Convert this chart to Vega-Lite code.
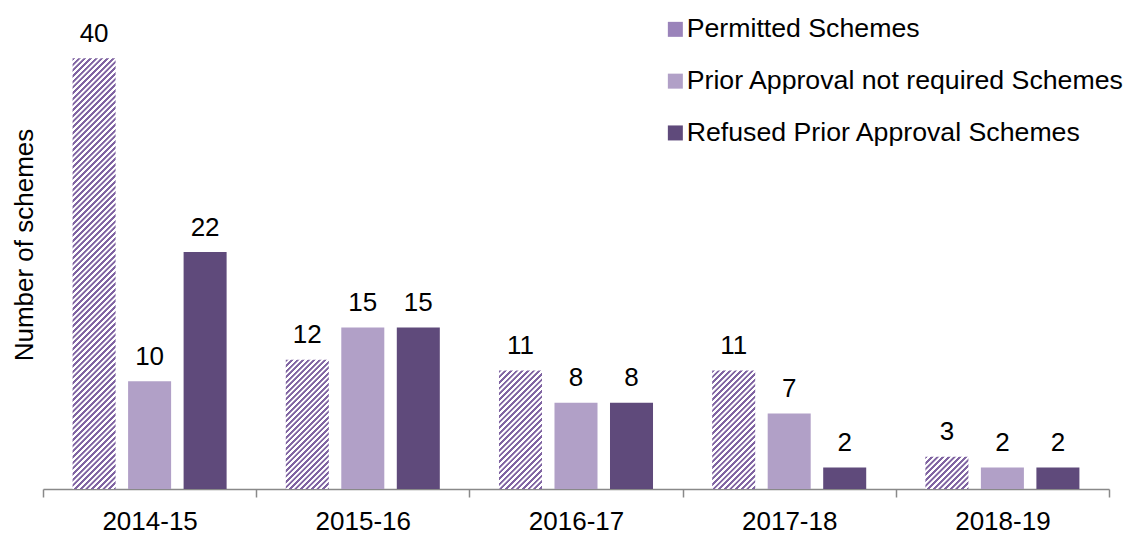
{
"$schema": "https://vega.github.io/schema/vega-lite/v6.json",
"width": 1066,
"height": 489,
"autosize": {"type": "none"},
"padding": {"left": 43, "top": 0, "right": 17, "bottom": 44},
"background": "#ffffff",
"config": {"view": {"stroke": null}, "font": "Liberation Sans"},
"data": {"values": [
{"year": "2014-15", "series": "Permitted Schemes", "value": 40},
{"year": "2014-15", "series": "Prior Approval not required Schemes", "value": 10},
{"year": "2014-15", "series": "Refused Prior Approval Schemes", "value": 22},
{"year": "2015-16", "series": "Permitted Schemes", "value": 12},
{"year": "2015-16", "series": "Prior Approval not required Schemes", "value": 15},
{"year": "2015-16", "series": "Refused Prior Approval Schemes", "value": 15},
{"year": "2016-17", "series": "Permitted Schemes", "value": 11},
{"year": "2016-17", "series": "Prior Approval not required Schemes", "value": 8},
{"year": "2016-17", "series": "Refused Prior Approval Schemes", "value": 8},
{"year": "2017-18", "series": "Permitted Schemes", "value": 11},
{"year": "2017-18", "series": "Prior Approval not required Schemes", "value": 7},
{"year": "2017-18", "series": "Refused Prior Approval Schemes", "value": 2},
{"year": "2018-19", "series": "Permitted Schemes", "value": 3},
{"year": "2018-19", "series": "Prior Approval not required Schemes", "value": 2},
{"year": "2018-19", "series": "Refused Prior Approval Schemes", "value": 2}
]},
"encoding": {
"x": {"field": "year", "type": "nominal", "sort": null,
 "scale": {"paddingInner": 0, "paddingOuter": 0},
 "axis": {"title": null, "labelAngle": 0, "labelFontSize": 26, "labelColor": "#000000", "labelPadding": 32, "labelBaseline": "alphabetic", "domainColor": "#898989", "domainWidth": 1.5, "tickColor": "#898989", "tickWidth": 1.5, "tickSize": 8, "tickBand": "extent", "grid": false}},
"xOffset": {"field": "series", "type": "nominal",
 "scale": {"domain": ["Permitted Schemes", "Prior Approval not required Schemes", "Refused Prior Approval Schemes"], "paddingInner": 0.225, "paddingOuter": 0.533}},
"y": {"field": "value", "type": "quantitative",
 "scale": {"domain": [0, 45.4], "nice": false, "zero": true},
 "axis": {"title": "Number of schemes", "labels": false, "ticks": false, "domain": false, "grid": false, "titleFontSize": 26, "titleColor": "#000000", "titleFontWeight": "normal", "titleX": -11, "titleY": 244.5, "titleAngle": -90, "titleAlign": "center", "titleBaseline": "alphabetic"}}
},
"layer": [
{"transform": [{"filter": "datum.series !== 'Permitted Schemes'"}],
 "mark": {"type": "bar"},
 "encoding": {"color": {"field": "series", "type": "nominal",
  "scale": {"domain": ["Permitted Schemes", "Prior Approval not required Schemes", "Refused Prior Approval Schemes"],
   "range": ["#9a83ba", "#b1a0c7", "#5f4a7b"]},
  "legend": {"orient": "none", "legendX": 619, "legendY": 16, "title": null, "symbolType": "square", "symbolSize": 225, "symbolStrokeWidth": 0, "labelFontSize": 26.7, "labelColor": "#000000", "labelLimit": 800, "rowPadding": 23.8, "labelOffset": -2, "padding": 0}}}},
{"transform": [{"filter": "datum.series === 'Permitted Schemes' && datum.year === '2014-15'"}],
 "mark": {"type": "bar", "fill": {"gradient": "linear", "x1": 0, "y1": 0, "x2": 0.10868, "y2": 1.08896, "stops": [
{"offset":0,"color":"#8064a2"},{"offset":0.005,"color":"#8064a2"},{"offset":0.006,"color":"#ffffff"},{"offset":0.011,"color":"#ffffff"},
{"offset":0.012,"color":"#8064a2"},{"offset":0.017,"color":"#8064a2"},{"offset":0.018,"color":"#ffffff"},{"offset":0.023,"color":"#ffffff"},
{"offset":0.024,"color":"#8064a2"},{"offset":0.029,"color":"#8064a2"},{"offset":0.030,"color":"#ffffff"},{"offset":0.035,"color":"#ffffff"},
{"offset":0.036,"color":"#8064a2"},{"offset":0.041,"color":"#8064a2"},{"offset":0.042,"color":"#ffffff"},{"offset":0.047,"color":"#ffffff"},
{"offset":0.048,"color":"#8064a2"},{"offset":0.053,"color":"#8064a2"},{"offset":0.054,"color":"#ffffff"},{"offset":0.059,"color":"#ffffff"},
{"offset":0.060,"color":"#8064a2"},{"offset":0.065,"color":"#8064a2"},{"offset":0.066,"color":"#ffffff"},{"offset":0.071,"color":"#ffffff"},
{"offset":0.072,"color":"#8064a2"},{"offset":0.077,"color":"#8064a2"},{"offset":0.078,"color":"#ffffff"},{"offset":0.083,"color":"#ffffff"},
{"offset":0.084,"color":"#8064a2"},{"offset":0.089,"color":"#8064a2"},{"offset":0.090,"color":"#ffffff"},{"offset":0.095,"color":"#ffffff"},
{"offset":0.096,"color":"#8064a2"},{"offset":0.101,"color":"#8064a2"},{"offset":0.102,"color":"#ffffff"},{"offset":0.107,"color":"#ffffff"},
{"offset":0.108,"color":"#8064a2"},{"offset":0.113,"color":"#8064a2"},{"offset":0.114,"color":"#ffffff"},{"offset":0.119,"color":"#ffffff"},
{"offset":0.120,"color":"#8064a2"},{"offset":0.125,"color":"#8064a2"},{"offset":0.126,"color":"#ffffff"},{"offset":0.131,"color":"#ffffff"},
{"offset":0.132,"color":"#8064a2"},{"offset":0.137,"color":"#8064a2"},{"offset":0.138,"color":"#ffffff"},{"offset":0.143,"color":"#ffffff"},
{"offset":0.144,"color":"#8064a2"},{"offset":0.149,"color":"#8064a2"},{"offset":0.150,"color":"#ffffff"},{"offset":0.155,"color":"#ffffff"},
{"offset":0.156,"color":"#8064a2"},{"offset":0.161,"color":"#8064a2"},{"offset":0.162,"color":"#ffffff"},{"offset":0.167,"color":"#ffffff"},
{"offset":0.168,"color":"#8064a2"},{"offset":0.173,"color":"#8064a2"},{"offset":0.174,"color":"#ffffff"},{"offset":0.179,"color":"#ffffff"},
{"offset":0.180,"color":"#8064a2"},{"offset":0.185,"color":"#8064a2"},{"offset":0.186,"color":"#ffffff"},{"offset":0.191,"color":"#ffffff"},
{"offset":0.192,"color":"#8064a2"},{"offset":0.197,"color":"#8064a2"},{"offset":0.198,"color":"#ffffff"},{"offset":0.203,"color":"#ffffff"},
{"offset":0.204,"color":"#8064a2"},{"offset":0.209,"color":"#8064a2"},{"offset":0.210,"color":"#ffffff"},{"offset":0.215,"color":"#ffffff"},
{"offset":0.216,"color":"#8064a2"},{"offset":0.221,"color":"#8064a2"},{"offset":0.222,"color":"#ffffff"},{"offset":0.227,"color":"#ffffff"},
{"offset":0.228,"color":"#8064a2"},{"offset":0.233,"color":"#8064a2"},{"offset":0.234,"color":"#ffffff"},{"offset":0.239,"color":"#ffffff"},
{"offset":0.240,"color":"#8064a2"},{"offset":0.245,"color":"#8064a2"},{"offset":0.246,"color":"#ffffff"},{"offset":0.251,"color":"#ffffff"},
{"offset":0.252,"color":"#8064a2"},{"offset":0.257,"color":"#8064a2"},{"offset":0.258,"color":"#ffffff"},{"offset":0.263,"color":"#ffffff"},
{"offset":0.264,"color":"#8064a2"},{"offset":0.269,"color":"#8064a2"},{"offset":0.270,"color":"#ffffff"},{"offset":0.275,"color":"#ffffff"},
{"offset":0.276,"color":"#8064a2"},{"offset":0.281,"color":"#8064a2"},{"offset":0.282,"color":"#ffffff"},{"offset":0.287,"color":"#ffffff"},
{"offset":0.288,"color":"#8064a2"},{"offset":0.293,"color":"#8064a2"},{"offset":0.294,"color":"#ffffff"},{"offset":0.299,"color":"#ffffff"},
{"offset":0.300,"color":"#8064a2"},{"offset":0.305,"color":"#8064a2"},{"offset":0.306,"color":"#ffffff"},{"offset":0.311,"color":"#ffffff"},
{"offset":0.312,"color":"#8064a2"},{"offset":0.317,"color":"#8064a2"},{"offset":0.318,"color":"#ffffff"},{"offset":0.323,"color":"#ffffff"},
{"offset":0.324,"color":"#8064a2"},{"offset":0.329,"color":"#8064a2"},{"offset":0.330,"color":"#ffffff"},{"offset":0.335,"color":"#ffffff"},
{"offset":0.336,"color":"#8064a2"},{"offset":0.341,"color":"#8064a2"},{"offset":0.342,"color":"#ffffff"},{"offset":0.347,"color":"#ffffff"},
{"offset":0.348,"color":"#8064a2"},{"offset":0.353,"color":"#8064a2"},{"offset":0.354,"color":"#ffffff"},{"offset":0.359,"color":"#ffffff"},
{"offset":0.360,"color":"#8064a2"},{"offset":0.365,"color":"#8064a2"},{"offset":0.366,"color":"#ffffff"},{"offset":0.371,"color":"#ffffff"},
{"offset":0.372,"color":"#8064a2"},{"offset":0.377,"color":"#8064a2"},{"offset":0.378,"color":"#ffffff"},{"offset":0.383,"color":"#ffffff"},
{"offset":0.384,"color":"#8064a2"},{"offset":0.389,"color":"#8064a2"},{"offset":0.390,"color":"#ffffff"},{"offset":0.395,"color":"#ffffff"},
{"offset":0.396,"color":"#8064a2"},{"offset":0.401,"color":"#8064a2"},{"offset":0.402,"color":"#ffffff"},{"offset":0.407,"color":"#ffffff"},
{"offset":0.408,"color":"#8064a2"},{"offset":0.413,"color":"#8064a2"},{"offset":0.414,"color":"#ffffff"},{"offset":0.419,"color":"#ffffff"},
{"offset":0.420,"color":"#8064a2"},{"offset":0.425,"color":"#8064a2"},{"offset":0.426,"color":"#ffffff"},{"offset":0.431,"color":"#ffffff"},
{"offset":0.432,"color":"#8064a2"},{"offset":0.437,"color":"#8064a2"},{"offset":0.438,"color":"#ffffff"},{"offset":0.443,"color":"#ffffff"},
{"offset":0.444,"color":"#8064a2"},{"offset":0.449,"color":"#8064a2"},{"offset":0.450,"color":"#ffffff"},{"offset":0.455,"color":"#ffffff"},
{"offset":0.456,"color":"#8064a2"},{"offset":0.461,"color":"#8064a2"},{"offset":0.462,"color":"#ffffff"},{"offset":0.467,"color":"#ffffff"},
{"offset":0.468,"color":"#8064a2"},{"offset":0.473,"color":"#8064a2"},{"offset":0.474,"color":"#ffffff"},{"offset":0.479,"color":"#ffffff"},
{"offset":0.480,"color":"#8064a2"},{"offset":0.485,"color":"#8064a2"},{"offset":0.486,"color":"#ffffff"},{"offset":0.491,"color":"#ffffff"},
{"offset":0.492,"color":"#8064a2"},{"offset":0.497,"color":"#8064a2"},{"offset":0.498,"color":"#ffffff"},{"offset":0.503,"color":"#ffffff"},
{"offset":0.504,"color":"#8064a2"},{"offset":0.509,"color":"#8064a2"},{"offset":0.510,"color":"#ffffff"},{"offset":0.515,"color":"#ffffff"},
{"offset":0.516,"color":"#8064a2"},{"offset":0.521,"color":"#8064a2"},{"offset":0.522,"color":"#ffffff"},{"offset":0.527,"color":"#ffffff"},
{"offset":0.528,"color":"#8064a2"},{"offset":0.533,"color":"#8064a2"},{"offset":0.534,"color":"#ffffff"},{"offset":0.539,"color":"#ffffff"},
{"offset":0.540,"color":"#8064a2"},{"offset":0.545,"color":"#8064a2"},{"offset":0.546,"color":"#ffffff"},{"offset":0.551,"color":"#ffffff"},
{"offset":0.552,"color":"#8064a2"},{"offset":0.557,"color":"#8064a2"},{"offset":0.558,"color":"#ffffff"},{"offset":0.563,"color":"#ffffff"},
{"offset":0.564,"color":"#8064a2"},{"offset":0.569,"color":"#8064a2"},{"offset":0.570,"color":"#ffffff"},{"offset":0.575,"color":"#ffffff"},
{"offset":0.576,"color":"#8064a2"},{"offset":0.581,"color":"#8064a2"},{"offset":0.582,"color":"#ffffff"},{"offset":0.587,"color":"#ffffff"},
{"offset":0.588,"color":"#8064a2"},{"offset":0.593,"color":"#8064a2"},{"offset":0.594,"color":"#ffffff"},{"offset":0.599,"color":"#ffffff"},
{"offset":0.600,"color":"#8064a2"},{"offset":0.605,"color":"#8064a2"},{"offset":0.606,"color":"#ffffff"},{"offset":0.611,"color":"#ffffff"},
{"offset":0.612,"color":"#8064a2"},{"offset":0.617,"color":"#8064a2"},{"offset":0.618,"color":"#ffffff"},{"offset":0.623,"color":"#ffffff"},
{"offset":0.624,"color":"#8064a2"},{"offset":0.629,"color":"#8064a2"},{"offset":0.630,"color":"#ffffff"},{"offset":0.635,"color":"#ffffff"},
{"offset":0.636,"color":"#8064a2"},{"offset":0.641,"color":"#8064a2"},{"offset":0.642,"color":"#ffffff"},{"offset":0.647,"color":"#ffffff"},
{"offset":0.648,"color":"#8064a2"},{"offset":0.653,"color":"#8064a2"},{"offset":0.654,"color":"#ffffff"},{"offset":0.659,"color":"#ffffff"},
{"offset":0.660,"color":"#8064a2"},{"offset":0.665,"color":"#8064a2"},{"offset":0.666,"color":"#ffffff"},{"offset":0.671,"color":"#ffffff"},
{"offset":0.672,"color":"#8064a2"},{"offset":0.677,"color":"#8064a2"},{"offset":0.678,"color":"#ffffff"},{"offset":0.683,"color":"#ffffff"},
{"offset":0.684,"color":"#8064a2"},{"offset":0.689,"color":"#8064a2"},{"offset":0.690,"color":"#ffffff"},{"offset":0.695,"color":"#ffffff"},
{"offset":0.696,"color":"#8064a2"},{"offset":0.701,"color":"#8064a2"},{"offset":0.702,"color":"#ffffff"},{"offset":0.707,"color":"#ffffff"},
{"offset":0.708,"color":"#8064a2"},{"offset":0.713,"color":"#8064a2"},{"offset":0.714,"color":"#ffffff"},{"offset":0.719,"color":"#ffffff"},
{"offset":0.720,"color":"#8064a2"},{"offset":0.725,"color":"#8064a2"},{"offset":0.726,"color":"#ffffff"},{"offset":0.731,"color":"#ffffff"},
{"offset":0.732,"color":"#8064a2"},{"offset":0.737,"color":"#8064a2"},{"offset":0.738,"color":"#ffffff"},{"offset":0.743,"color":"#ffffff"},
{"offset":0.744,"color":"#8064a2"},{"offset":0.749,"color":"#8064a2"},{"offset":0.750,"color":"#ffffff"},{"offset":0.755,"color":"#ffffff"},
{"offset":0.756,"color":"#8064a2"},{"offset":0.761,"color":"#8064a2"},{"offset":0.762,"color":"#ffffff"},{"offset":0.767,"color":"#ffffff"},
{"offset":0.768,"color":"#8064a2"},{"offset":0.773,"color":"#8064a2"},{"offset":0.774,"color":"#ffffff"},{"offset":0.779,"color":"#ffffff"},
{"offset":0.780,"color":"#8064a2"},{"offset":0.785,"color":"#8064a2"},{"offset":0.786,"color":"#ffffff"},{"offset":0.791,"color":"#ffffff"},
{"offset":0.792,"color":"#8064a2"},{"offset":0.797,"color":"#8064a2"},{"offset":0.798,"color":"#ffffff"},{"offset":0.803,"color":"#ffffff"},
{"offset":0.804,"color":"#8064a2"},{"offset":0.809,"color":"#8064a2"},{"offset":0.810,"color":"#ffffff"},{"offset":0.815,"color":"#ffffff"},
{"offset":0.816,"color":"#8064a2"},{"offset":0.821,"color":"#8064a2"},{"offset":0.822,"color":"#ffffff"},{"offset":0.827,"color":"#ffffff"},
{"offset":0.828,"color":"#8064a2"},{"offset":0.833,"color":"#8064a2"},{"offset":0.834,"color":"#ffffff"},{"offset":0.839,"color":"#ffffff"},
{"offset":0.840,"color":"#8064a2"},{"offset":0.845,"color":"#8064a2"},{"offset":0.846,"color":"#ffffff"},{"offset":0.851,"color":"#ffffff"},
{"offset":0.852,"color":"#8064a2"},{"offset":0.857,"color":"#8064a2"},{"offset":0.858,"color":"#ffffff"},{"offset":0.863,"color":"#ffffff"},
{"offset":0.864,"color":"#8064a2"},{"offset":0.869,"color":"#8064a2"},{"offset":0.870,"color":"#ffffff"},{"offset":0.875,"color":"#ffffff"},
{"offset":0.876,"color":"#8064a2"},{"offset":0.881,"color":"#8064a2"},{"offset":0.882,"color":"#ffffff"},{"offset":0.887,"color":"#ffffff"},
{"offset":0.888,"color":"#8064a2"},{"offset":0.893,"color":"#8064a2"},{"offset":0.894,"color":"#ffffff"},{"offset":0.899,"color":"#ffffff"},
{"offset":0.900,"color":"#8064a2"},{"offset":0.905,"color":"#8064a2"},{"offset":0.906,"color":"#ffffff"},{"offset":0.911,"color":"#ffffff"},
{"offset":0.912,"color":"#8064a2"},{"offset":0.917,"color":"#8064a2"},{"offset":0.918,"color":"#ffffff"},{"offset":0.923,"color":"#ffffff"},
{"offset":0.924,"color":"#8064a2"},{"offset":0.929,"color":"#8064a2"},{"offset":0.930,"color":"#ffffff"},{"offset":0.935,"color":"#ffffff"},
{"offset":0.936,"color":"#8064a2"},{"offset":0.941,"color":"#8064a2"},{"offset":0.942,"color":"#ffffff"},{"offset":0.947,"color":"#ffffff"},
{"offset":0.948,"color":"#8064a2"},{"offset":0.953,"color":"#8064a2"},{"offset":0.954,"color":"#ffffff"},{"offset":0.959,"color":"#ffffff"},
{"offset":0.960,"color":"#8064a2"},{"offset":0.965,"color":"#8064a2"},{"offset":0.966,"color":"#ffffff"},{"offset":0.971,"color":"#ffffff"},
{"offset":0.972,"color":"#8064a2"},{"offset":0.977,"color":"#8064a2"},{"offset":0.978,"color":"#ffffff"},{"offset":0.983,"color":"#ffffff"},
{"offset":0.984,"color":"#8064a2"},{"offset":0.989,"color":"#8064a2"},{"offset":0.990,"color":"#ffffff"},{"offset":0.995,"color":"#ffffff"},
{"offset":0.996,"color":"#8064a2"},{"offset":1,"color":"#8064a2"}
]}}},
{"transform": [{"filter": "datum.series === 'Permitted Schemes' && datum.year === '2015-16'"}],
 "mark": {"type": "bar", "fill": {"gradient": "linear", "x1": 0, "y1": 0, "x2": 0.39919, "y2": 1.19988, "stops": [
{"offset":0,"color":"#8064a2"},{"offset":0.013,"color":"#8064a2"},{"offset":0.016,"color":"#ffffff"},{"offset":0.029,"color":"#ffffff"},
{"offset":0.032,"color":"#8064a2"},{"offset":0.045,"color":"#8064a2"},{"offset":0.048,"color":"#ffffff"},{"offset":0.061,"color":"#ffffff"},
{"offset":0.064,"color":"#8064a2"},{"offset":0.077,"color":"#8064a2"},{"offset":0.080,"color":"#ffffff"},{"offset":0.093,"color":"#ffffff"},
{"offset":0.096,"color":"#8064a2"},{"offset":0.109,"color":"#8064a2"},{"offset":0.112,"color":"#ffffff"},{"offset":0.125,"color":"#ffffff"},
{"offset":0.128,"color":"#8064a2"},{"offset":0.141,"color":"#8064a2"},{"offset":0.144,"color":"#ffffff"},{"offset":0.157,"color":"#ffffff"},
{"offset":0.160,"color":"#8064a2"},{"offset":0.173,"color":"#8064a2"},{"offset":0.176,"color":"#ffffff"},{"offset":0.189,"color":"#ffffff"},
{"offset":0.192,"color":"#8064a2"},{"offset":0.205,"color":"#8064a2"},{"offset":0.208,"color":"#ffffff"},{"offset":0.221,"color":"#ffffff"},
{"offset":0.224,"color":"#8064a2"},{"offset":0.237,"color":"#8064a2"},{"offset":0.240,"color":"#ffffff"},{"offset":0.253,"color":"#ffffff"},
{"offset":0.256,"color":"#8064a2"},{"offset":0.269,"color":"#8064a2"},{"offset":0.272,"color":"#ffffff"},{"offset":0.285,"color":"#ffffff"},
{"offset":0.288,"color":"#8064a2"},{"offset":0.301,"color":"#8064a2"},{"offset":0.304,"color":"#ffffff"},{"offset":0.317,"color":"#ffffff"},
{"offset":0.320,"color":"#8064a2"},{"offset":0.333,"color":"#8064a2"},{"offset":0.336,"color":"#ffffff"},{"offset":0.349,"color":"#ffffff"},
{"offset":0.352,"color":"#8064a2"},{"offset":0.365,"color":"#8064a2"},{"offset":0.368,"color":"#ffffff"},{"offset":0.381,"color":"#ffffff"},
{"offset":0.384,"color":"#8064a2"},{"offset":0.397,"color":"#8064a2"},{"offset":0.400,"color":"#ffffff"},{"offset":0.413,"color":"#ffffff"},
{"offset":0.416,"color":"#8064a2"},{"offset":0.429,"color":"#8064a2"},{"offset":0.432,"color":"#ffffff"},{"offset":0.445,"color":"#ffffff"},
{"offset":0.448,"color":"#8064a2"},{"offset":0.461,"color":"#8064a2"},{"offset":0.464,"color":"#ffffff"},{"offset":0.477,"color":"#ffffff"},
{"offset":0.480,"color":"#8064a2"},{"offset":0.493,"color":"#8064a2"},{"offset":0.496,"color":"#ffffff"},{"offset":0.509,"color":"#ffffff"},
{"offset":0.512,"color":"#8064a2"},{"offset":0.525,"color":"#8064a2"},{"offset":0.528,"color":"#ffffff"},{"offset":0.541,"color":"#ffffff"},
{"offset":0.544,"color":"#8064a2"},{"offset":0.557,"color":"#8064a2"},{"offset":0.560,"color":"#ffffff"},{"offset":0.573,"color":"#ffffff"},
{"offset":0.576,"color":"#8064a2"},{"offset":0.589,"color":"#8064a2"},{"offset":0.592,"color":"#ffffff"},{"offset":0.605,"color":"#ffffff"},
{"offset":0.608,"color":"#8064a2"},{"offset":0.621,"color":"#8064a2"},{"offset":0.624,"color":"#ffffff"},{"offset":0.637,"color":"#ffffff"},
{"offset":0.640,"color":"#8064a2"},{"offset":0.653,"color":"#8064a2"},{"offset":0.656,"color":"#ffffff"},{"offset":0.669,"color":"#ffffff"},
{"offset":0.672,"color":"#8064a2"},{"offset":0.685,"color":"#8064a2"},{"offset":0.688,"color":"#ffffff"},{"offset":0.701,"color":"#ffffff"},
{"offset":0.704,"color":"#8064a2"},{"offset":0.717,"color":"#8064a2"},{"offset":0.720,"color":"#ffffff"},{"offset":0.733,"color":"#ffffff"},
{"offset":0.736,"color":"#8064a2"},{"offset":0.749,"color":"#8064a2"},{"offset":0.752,"color":"#ffffff"},{"offset":0.765,"color":"#ffffff"},
{"offset":0.768,"color":"#8064a2"},{"offset":0.781,"color":"#8064a2"},{"offset":0.784,"color":"#ffffff"},{"offset":0.797,"color":"#ffffff"},
{"offset":0.800,"color":"#8064a2"},{"offset":0.813,"color":"#8064a2"},{"offset":0.816,"color":"#ffffff"},{"offset":0.829,"color":"#ffffff"},
{"offset":0.832,"color":"#8064a2"},{"offset":0.845,"color":"#8064a2"},{"offset":0.848,"color":"#ffffff"},{"offset":0.861,"color":"#ffffff"},
{"offset":0.864,"color":"#8064a2"},{"offset":0.877,"color":"#8064a2"},{"offset":0.880,"color":"#ffffff"},{"offset":0.893,"color":"#ffffff"},
{"offset":0.896,"color":"#8064a2"},{"offset":0.909,"color":"#8064a2"},{"offset":0.912,"color":"#ffffff"},{"offset":0.925,"color":"#ffffff"},
{"offset":0.928,"color":"#8064a2"},{"offset":0.941,"color":"#8064a2"},{"offset":0.944,"color":"#ffffff"},{"offset":0.957,"color":"#ffffff"},
{"offset":0.960,"color":"#8064a2"},{"offset":0.973,"color":"#8064a2"},{"offset":0.976,"color":"#ffffff"},{"offset":0.989,"color":"#ffffff"},
{"offset":0.992,"color":"#8064a2"},{"offset":1,"color":"#8064a2"}
]}}},
{"transform": [{"filter": "datum.series === 'Permitted Schemes' && (datum.year === '2016-17' || datum.year === '2017-18')"}],
 "mark": {"type": "bar", "fill": {"gradient": "linear", "x1": 0, "y1": 0, "x2": 0.43708, "y2": 1.20431, "stops": [
{"offset":0,"color":"#8064a2"},{"offset":0.014,"color":"#8064a2"},{"offset":0.017,"color":"#ffffff"},{"offset":0.032,"color":"#ffffff"},
{"offset":0.035,"color":"#8064a2"},{"offset":0.049,"color":"#8064a2"},{"offset":0.052,"color":"#ffffff"},{"offset":0.067,"color":"#ffffff"},
{"offset":0.070,"color":"#8064a2"},{"offset":0.084,"color":"#8064a2"},{"offset":0.087,"color":"#ffffff"},{"offset":0.102,"color":"#ffffff"},
{"offset":0.105,"color":"#8064a2"},{"offset":0.119,"color":"#8064a2"},{"offset":0.122,"color":"#ffffff"},{"offset":0.137,"color":"#ffffff"},
{"offset":0.140,"color":"#8064a2"},{"offset":0.154,"color":"#8064a2"},{"offset":0.157,"color":"#ffffff"},{"offset":0.172,"color":"#ffffff"},
{"offset":0.175,"color":"#8064a2"},{"offset":0.189,"color":"#8064a2"},{"offset":0.192,"color":"#ffffff"},{"offset":0.207,"color":"#ffffff"},
{"offset":0.210,"color":"#8064a2"},{"offset":0.224,"color":"#8064a2"},{"offset":0.227,"color":"#ffffff"},{"offset":0.242,"color":"#ffffff"},
{"offset":0.245,"color":"#8064a2"},{"offset":0.259,"color":"#8064a2"},{"offset":0.262,"color":"#ffffff"},{"offset":0.277,"color":"#ffffff"},
{"offset":0.280,"color":"#8064a2"},{"offset":0.294,"color":"#8064a2"},{"offset":0.297,"color":"#ffffff"},{"offset":0.312,"color":"#ffffff"},
{"offset":0.315,"color":"#8064a2"},{"offset":0.329,"color":"#8064a2"},{"offset":0.332,"color":"#ffffff"},{"offset":0.347,"color":"#ffffff"},
{"offset":0.350,"color":"#8064a2"},{"offset":0.364,"color":"#8064a2"},{"offset":0.367,"color":"#ffffff"},{"offset":0.382,"color":"#ffffff"},
{"offset":0.385,"color":"#8064a2"},{"offset":0.399,"color":"#8064a2"},{"offset":0.402,"color":"#ffffff"},{"offset":0.417,"color":"#ffffff"},
{"offset":0.420,"color":"#8064a2"},{"offset":0.434,"color":"#8064a2"},{"offset":0.437,"color":"#ffffff"},{"offset":0.452,"color":"#ffffff"},
{"offset":0.455,"color":"#8064a2"},{"offset":0.469,"color":"#8064a2"},{"offset":0.472,"color":"#ffffff"},{"offset":0.487,"color":"#ffffff"},
{"offset":0.490,"color":"#8064a2"},{"offset":0.504,"color":"#8064a2"},{"offset":0.507,"color":"#ffffff"},{"offset":0.522,"color":"#ffffff"},
{"offset":0.525,"color":"#8064a2"},{"offset":0.539,"color":"#8064a2"},{"offset":0.542,"color":"#ffffff"},{"offset":0.557,"color":"#ffffff"},
{"offset":0.560,"color":"#8064a2"},{"offset":0.574,"color":"#8064a2"},{"offset":0.577,"color":"#ffffff"},{"offset":0.592,"color":"#ffffff"},
{"offset":0.595,"color":"#8064a2"},{"offset":0.609,"color":"#8064a2"},{"offset":0.612,"color":"#ffffff"},{"offset":0.627,"color":"#ffffff"},
{"offset":0.630,"color":"#8064a2"},{"offset":0.644,"color":"#8064a2"},{"offset":0.647,"color":"#ffffff"},{"offset":0.662,"color":"#ffffff"},
{"offset":0.665,"color":"#8064a2"},{"offset":0.679,"color":"#8064a2"},{"offset":0.682,"color":"#ffffff"},{"offset":0.697,"color":"#ffffff"},
{"offset":0.700,"color":"#8064a2"},{"offset":0.714,"color":"#8064a2"},{"offset":0.717,"color":"#ffffff"},{"offset":0.732,"color":"#ffffff"},
{"offset":0.735,"color":"#8064a2"},{"offset":0.749,"color":"#8064a2"},{"offset":0.752,"color":"#ffffff"},{"offset":0.767,"color":"#ffffff"},
{"offset":0.770,"color":"#8064a2"},{"offset":0.784,"color":"#8064a2"},{"offset":0.787,"color":"#ffffff"},{"offset":0.802,"color":"#ffffff"},
{"offset":0.805,"color":"#8064a2"},{"offset":0.819,"color":"#8064a2"},{"offset":0.822,"color":"#ffffff"},{"offset":0.837,"color":"#ffffff"},
{"offset":0.840,"color":"#8064a2"},{"offset":0.854,"color":"#8064a2"},{"offset":0.857,"color":"#ffffff"},{"offset":0.872,"color":"#ffffff"},
{"offset":0.875,"color":"#8064a2"},{"offset":0.889,"color":"#8064a2"},{"offset":0.892,"color":"#ffffff"},{"offset":0.907,"color":"#ffffff"},
{"offset":0.910,"color":"#8064a2"},{"offset":0.924,"color":"#8064a2"},{"offset":0.927,"color":"#ffffff"},{"offset":0.942,"color":"#ffffff"},
{"offset":0.945,"color":"#8064a2"},{"offset":0.959,"color":"#8064a2"},{"offset":0.962,"color":"#ffffff"},{"offset":0.977,"color":"#ffffff"},
{"offset":0.980,"color":"#8064a2"},{"offset":0.994,"color":"#8064a2"},{"offset":0.997,"color":"#ffffff"},{"offset":1,"color":"#ffffff"}
]}}},
{"transform": [{"filter": "datum.series === 'Permitted Schemes' && datum.year === '2018-19'"}],
 "mark": {"type": "bar", "fill": {"gradient": "linear", "x1": 0, "y1": 0, "x2": 1.1194, "y2": 0.84112, "stops": [
{"offset":0,"color":"#8064a2"},{"offset":0.031,"color":"#8064a2"},{"offset":0.038,"color":"#ffffff"},{"offset":0.068,"color":"#ffffff"},
{"offset":0.075,"color":"#8064a2"},{"offset":0.106,"color":"#8064a2"},{"offset":0.113,"color":"#ffffff"},{"offset":0.143,"color":"#ffffff"},
{"offset":0.150,"color":"#8064a2"},{"offset":0.181,"color":"#8064a2"},{"offset":0.188,"color":"#ffffff"},{"offset":0.218,"color":"#ffffff"},
{"offset":0.225,"color":"#8064a2"},{"offset":0.256,"color":"#8064a2"},{"offset":0.263,"color":"#ffffff"},{"offset":0.293,"color":"#ffffff"},
{"offset":0.300,"color":"#8064a2"},{"offset":0.331,"color":"#8064a2"},{"offset":0.338,"color":"#ffffff"},{"offset":0.368,"color":"#ffffff"},
{"offset":0.375,"color":"#8064a2"},{"offset":0.406,"color":"#8064a2"},{"offset":0.413,"color":"#ffffff"},{"offset":0.443,"color":"#ffffff"},
{"offset":0.450,"color":"#8064a2"},{"offset":0.481,"color":"#8064a2"},{"offset":0.488,"color":"#ffffff"},{"offset":0.518,"color":"#ffffff"},
{"offset":0.525,"color":"#8064a2"},{"offset":0.556,"color":"#8064a2"},{"offset":0.563,"color":"#ffffff"},{"offset":0.593,"color":"#ffffff"},
{"offset":0.600,"color":"#8064a2"},{"offset":0.631,"color":"#8064a2"},{"offset":0.638,"color":"#ffffff"},{"offset":0.668,"color":"#ffffff"},
{"offset":0.675,"color":"#8064a2"},{"offset":0.706,"color":"#8064a2"},{"offset":0.713,"color":"#ffffff"},{"offset":0.743,"color":"#ffffff"},
{"offset":0.750,"color":"#8064a2"},{"offset":0.781,"color":"#8064a2"},{"offset":0.788,"color":"#ffffff"},{"offset":0.818,"color":"#ffffff"},
{"offset":0.825,"color":"#8064a2"},{"offset":0.856,"color":"#8064a2"},{"offset":0.863,"color":"#ffffff"},{"offset":0.893,"color":"#ffffff"},
{"offset":0.900,"color":"#8064a2"},{"offset":0.931,"color":"#8064a2"},{"offset":0.938,"color":"#ffffff"},{"offset":0.968,"color":"#ffffff"},
{"offset":0.975,"color":"#8064a2"},{"offset":1,"color":"#8064a2"}
]}}},
{"mark": {"type": "text", "fontSize": 26, "color": "#000000", "dy": -16.5, "baseline": "alphabetic", "align": "center"},
 "encoding": {"text": {"field": "value", "type": "quantitative"}}}
]
}
